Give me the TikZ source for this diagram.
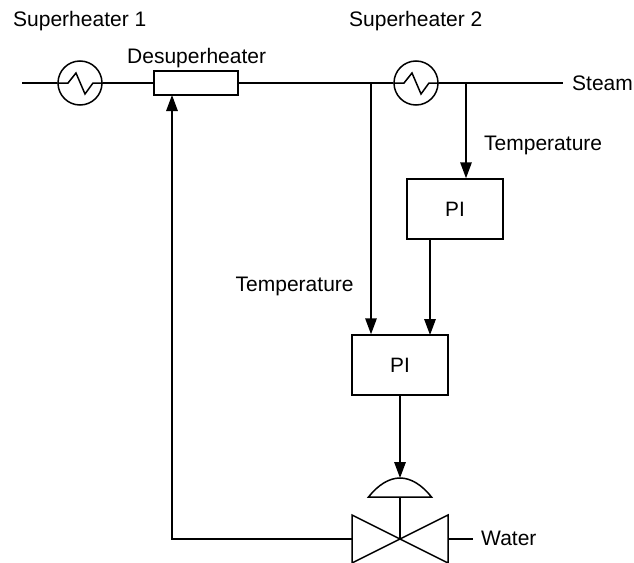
\documentclass[tikz,border=0pt]{standalone}
\usepackage{fontspec}
\setmainfont{Liberation Sans}
\usetikzlibrary{arrows.meta}
\tikzset{
  line/.style={line width=1.5pt,black},
  flow/.style={line,-{Triangle[length=16pt,width=11.5pt]}},
  box/.style={draw,line width=1.5pt,minimum width=96pt,minimum height=60pt,inner sep=0pt,font=\fontsize{20.8pt}{22pt}\selectfont},
  lbl/.style={inner sep=0pt,anchor=base west,font=\fontsize{21pt}{23pt}\selectfont},
  hx/.style={circle,draw,line width=1.5pt,minimum size=44pt,inner sep=0pt}
}
\begin{document}
\begin{tikzpicture}[x=1pt,y=-1pt]
\useasboundingbox (0,0) rectangle (634,562);
\clip (0,0) rectangle (634,562);
\node[lbl] (t1) at (13,27) {Superheater 1};
\node[lbl] (t2) at (349,27) {Superheater 2};
\node[lbl] (t3) at (127,63) {Desuperheater};
\node[lbl] (t4) at (572,90) {Steam};
\node[lbl] (t5) at (484,150) {Temperature};
\node[lbl] (t6) at (235.5,291) {Temperature};
\node[lbl] (t7) at (481,545) {Water};
\node[hx] (h1) at (80,83) {};
\node[hx] (h2) at (416,83) {};
\node[draw,line width=1.5pt,minimum width=84pt,minimum height=24pt,inner sep=0pt] (ds) at (196,83) {};
\node[box] (pi1) at (455,209) {PI};
\node[box] (pi2) at (400,365) {PI};
\coordinate (in) at (22,83);
\coordinate (out) at (563,83);
\coordinate (j1) at (371,83);
\coordinate (j2) at (466,83);
\coordinate (v) at (400,539);
\coordinate (act) at (400,497);
\coordinate (acttop) at (400,478);
\coordinate (wat) at (473,539);
\coordinate (ret) at (172,539);
\coordinate (dsin) at (172,95);
\draw[line] (in) -- (h1.west);
\draw[line] (h1.east) -- (ds.west);
\draw[line] (ds.east) -- (h2.west);
\draw[line] (h2.east) -- (out);
\draw[line,line join=miter] (h1.west) -- (68,83) -- (76,73) -- (85,94) -- (93,83) -- (h1.east);
\draw[line,line join=miter] (h2.west) -- (404,83) -- (412,73) -- (421,94) -- (429,83) -- (h2.east);
\draw[flow] (j1) -- (j1 |- pi2.north);
\draw[flow] (j2) -- (j2 |- pi1.north);
\draw[flow] (pi1.south -| 430,0) -- (430,335);
\draw[flow] (pi2.south) -- (acttop);
\draw[line,line join=miter] (368.5,497) .. controls (378,485) and (389,478) .. (acttop) .. controls (411,478) and (422,485) .. (431.5,497) -- cycle;
\draw[line] (act) -- (v);
\draw[line,line join=miter] (v) -- (352,515) -- (352,563) -- cycle;
\draw[line,line join=miter] (v) -- (448,515) -- (448,563) -- cycle;
\draw[line] (448,539) -- (wat);
\draw[flow] (352,539) -- (ret) -- (dsin);
\end{tikzpicture}
\end{document}
